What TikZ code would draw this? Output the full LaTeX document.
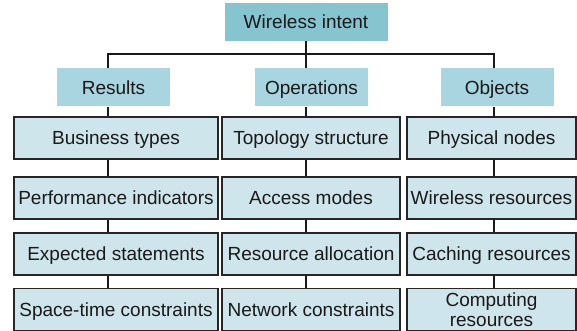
\documentclass[tikz,border=0pt]{standalone}
\usepackage{fontspec}
\setmainfont{Liberation Sans}
\usetikzlibrary{positioning}
\definecolor{topfill}{HTML}{86C5D0}
\definecolor{midfill}{HTML}{A9D5E0}
\definecolor{leaffill}{HTML}{CEE5EB}

\begin{document}
\begin{tikzpicture}[x=1pt,y=-1pt]
\tikzstyle{every node}+=[inner sep=0pt, font=\fontsize{19}{20}\selectfont, text=black!90]
\tikzstyle{one line}=[text height=13.6pt, text depth=0.5pt]
\tikzstyle{head}=[one line, fill=topfill, minimum width=163pt, minimum height=38.5pt]
\tikzstyle{group}=[one line, fill=midfill, minimum width=113pt, minimum height=38pt]
\tikzstyle{leaf}=[draw=black!85, line width=1.3pt, fill=leaffill, minimum height=42pt, align=center]
\tikzstyle{link}=[black!90, line width=2.4pt]
\useasboundingbox (0,0) rectangle (577,331);
% root and the three groups
\node [head] (intent) at (306,22) {Wireless intent};
\node [group] (results) at (113.5,87.5) {Results};
\node [group] (operations) at (311.5,87.5) {Operations};
\node [group] (objects) at (497,87.5) {Objects};
\coordinate (busL) at (108,54);
\coordinate (busM) at (306,54);
\coordinate (busR) at (494,54);
\draw [link] (intent.south) -- (busM) -- (busM |- operations.north);
\draw [link, line join=miter] (busL |- results.north) -- (busL) -- (busR) -- (busR |- objects.north);
% results column
\node [leaf, one line, minimum width=204pt] (business) at (116,138) {Business types};
\node [leaf, one line, minimum width=204pt] (performance) at (116,198) {Performance indicators};
\node [leaf, one line, minimum width=204pt] (expected) at (116,254) {Expected statements};
\node [leaf, one line, minimum width=204pt] (spacetime) at (116,309.5) {Space-time constraints};
% operations column
\node [leaf, one line, minimum width=178pt] (topology) at (311,138) {Topology structure};
\node [leaf, one line, minimum width=178pt] (access) at (311,198) {Access modes};
\node [leaf, one line, minimum width=178pt] (allocation) at (311,254) {Resource allocation};
\node [leaf, one line, minimum width=178pt] (network) at (311,309.5) {Network constraints};
% objects column
\node [leaf, one line, minimum width=169pt] (physical) at (491.5,138) {Physical nodes};
\node [leaf, one line, minimum width=169pt] (wireless) at (491.5,198) {Wireless resources};
\node [leaf, one line, minimum width=169pt] (caching) at (491.5,254) {Caching resources};
\node [leaf, minimum width=169pt] (computing) at (491.5,309.5) {Computing\\resources};
% links down each column
\draw [link] (busL |- results.south) -- (busL |- business.north);
\draw [link] (busL |- business.south) -- (busL |- performance.north);
\draw [link] (busL |- performance.south) -- (busL |- expected.north);
\draw [link] (busL |- expected.south) -- (busL |- spacetime.north);
\draw [link] (busM |- operations.south) -- (busM |- topology.north);
\draw [link] (busM |- topology.south) -- (busM |- access.north);
\draw [link] (busM |- access.south) -- (busM |- allocation.north);
\draw [link] (busM |- allocation.south) -- (busM |- network.north);
\draw [link] (busR |- objects.south) -- (busR |- physical.north);
\draw [link] (busR |- physical.south) -- (busR |- wireless.north);
\draw [link] (busR |- wireless.south) -- (busR |- caching.north);
\draw [link] (busR |- caching.south) -- (busR |- computing.north);
\end{tikzpicture}
\end{document}
